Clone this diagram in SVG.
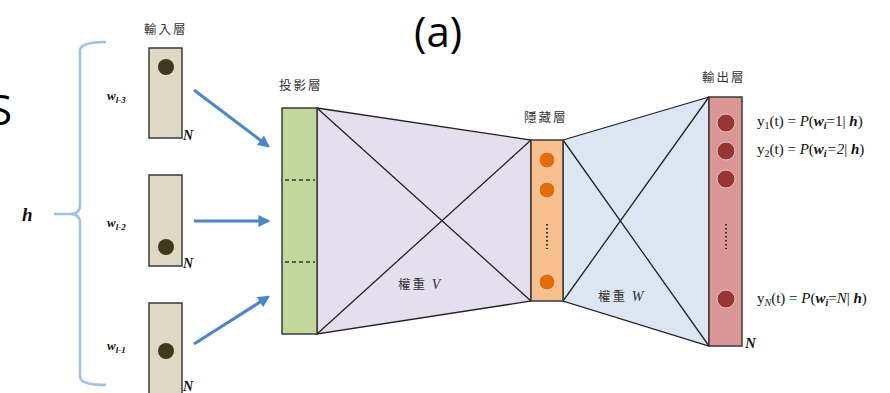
<svg xmlns="http://www.w3.org/2000/svg" width="890" height="393" viewBox="0 0 890 393">
<defs>
<style>
.box{stroke:#3a3a3a;stroke-width:1.5}
.cjk{font-family:"Noto Sans CJK TC","Noto Sans CJK SC",sans-serif;font-size:12.5px;fill:#333;letter-spacing:2px}
.ser{font-family:"Liberation Serif",serif;fill:#111}
.bi{font-family:"Liberation Serif",serif;font-weight:bold;font-style:italic;fill:#111}
.it{font-family:"Liberation Serif",serif;font-style:italic;fill:#333;letter-spacing:0}
.arr{stroke:#4A86D0;stroke-width:3;fill:none;marker-end:url(#ah)}
.ln{stroke:#222;stroke-width:1.3;fill:none}
.big{font-family:"Open Sans","Noto Sans",sans-serif;font-size:42px;fill:#000}
</style>
<marker id="ah" viewBox="0 0 10 10" refX="8" refY="5" markerWidth="4" markerHeight="4" orient="auto" markerUnits="strokeWidth">
<path d="M0,0 L10,5 L0,10 z" fill="#4A86D0"/>
</marker>
</defs>
<rect width="890" height="393" fill="#fff"/>
<text class="big" x="-11" y="125">S</text>
<text class="big" x="414" y="47">(a)</text>

<g id="brace">
<path d="M106,42 Q81,42 80,50 L80,205 Q80,214 70,214 L54,214 M70,214 Q80,214 80,223 L80,377 Q81,385 106,385" fill="none" stroke="#9DC3E6" stroke-width="2.5"/>
<text class="bi" x="22" y="221" font-size="19">h</text>
</g>

<g id="input-label"><text class="cjk" x="144" y="34">輸入層</text></g>

<g id="input1">
<rect class="box" x="149" y="48" width="33" height="90" fill="#DDD9C3"/>
<circle cx="166" cy="67" r="8" fill="#3F3A1E"/>
<text class="bi" x="183" y="140" font-size="14">N</text>
<text class="bi" x="107" y="100" font-size="13">w<tspan font-size="9" dy="3">l-3</tspan></text>
</g>
<g id="input2">
<rect class="box" x="149" y="175" width="33" height="91" fill="#DDD9C3"/>
<circle cx="166" cy="247" r="8" fill="#3F3A1E"/>
<text class="bi" x="183" y="268" font-size="14">N</text>
<text class="bi" x="107" y="227" font-size="13">w<tspan font-size="9" dy="3">l-2</tspan></text>
</g>
<g id="input3">
<rect class="box" x="149" y="303" width="33" height="95" fill="#DDD9C3"/>
<circle cx="166" cy="351" r="8" fill="#3F3A1E"/>
<text class="bi" x="183" y="391" font-size="14">N</text>
<text class="bi" x="107" y="350" font-size="13">w<tspan font-size="9" dy="3">l-1</tspan></text>
</g>

<g id="connectors">
<line class="arr" x1="194" y1="90" x2="268" y2="146"/>
<line class="arr" x1="194" y1="221" x2="268" y2="221"/>
<line class="arr" x1="194" y1="344" x2="268" y2="297"/>
</g>

<g id="weightV">
<polygon points="317,108 531,140 531,301 317,334" fill="#E4DFEC" stroke="#222" stroke-width="1.3"/>
<line class="ln" x1="317" y1="108" x2="531" y2="301"/>
<line class="ln" x1="317" y1="334" x2="531" y2="140"/>
<text class="cjk" x="398" y="289" font-size="12">權重 <tspan class="it" font-size="14">V</tspan></text>
</g>

<g id="projection">
<text class="cjk" x="279" y="90">投影層</text>
<rect class="box" x="282" y="108" width="35" height="226" fill="#C3D69B"/>
<line x1="285" y1="180" x2="315" y2="180" stroke="#333" stroke-width="1.3" stroke-dasharray="4,3"/>
<line x1="285" y1="262" x2="315" y2="262" stroke="#333" stroke-width="1.3" stroke-dasharray="4,3"/>
</g>

<g id="weightW">
<polygon points="563,140 709,97 709,346 563,301" fill="#DCE6F2" stroke="#222" stroke-width="1.3"/>
<line class="ln" x1="563" y1="140" x2="709" y2="346"/>
<line class="ln" x1="563" y1="301" x2="709" y2="97"/>
<text class="cjk" x="598" y="301" font-size="12">權重 <tspan class="it" font-size="14">W</tspan></text>
</g>

<g id="hidden">
<text class="cjk" x="524" y="122">隱藏層</text>
<rect class="box" x="531" y="140" width="32" height="161" fill="#F9C08F"/>
<circle cx="547" cy="160" r="8" fill="#E46C0A" stroke="#FAD3B0" stroke-width="1"/>
<circle cx="547" cy="190" r="8" fill="#E46C0A" stroke="#FAD3B0" stroke-width="1"/>
<circle cx="547" cy="282" r="8" fill="#E46C0A" stroke="#FAD3B0" stroke-width="1"/>
<line x1="547" y1="224" x2="547" y2="249" stroke="#333" stroke-width="2" stroke-dasharray="1.5,2.5"/>
</g>

<g id="output">
<text class="cjk" x="702" y="82">輸出層</text>
<rect class="box" x="709" y="97" width="33" height="249" fill="#DA9694"/>
<circle cx="726" cy="123" r="9" fill="#963634" stroke="#F0C0BE" stroke-width="1"/>
<circle cx="726" cy="151" r="9" fill="#963634" stroke="#F0C0BE" stroke-width="1"/>
<circle cx="726" cy="179" r="9" fill="#963634" stroke="#F0C0BE" stroke-width="1"/>
<circle cx="726" cy="299" r="9" fill="#963634" stroke="#F0C0BE" stroke-width="1"/>
<line x1="726" y1="224" x2="726" y2="249" stroke="#333" stroke-width="2" stroke-dasharray="1.5,2.5"/>
<text class="bi" x="745" y="348" font-size="15">N</text>
<text class="ser" x="757" y="126" font-size="15">y<tspan font-size="10" dy="3">1</tspan><tspan dy="-3">(t) = </tspan><tspan font-style="italic">P</tspan>(<tspan font-weight="bold" font-style="italic">w</tspan><tspan font-weight="bold" font-style="italic" font-size="10" dy="3">i</tspan><tspan dy="-3">=1| </tspan><tspan font-weight="bold" font-style="italic">h</tspan>)</text>
<text class="ser" x="757" y="154" font-size="15">y<tspan font-size="10" dy="3">2</tspan><tspan dy="-3">(t) = </tspan><tspan font-style="italic">P</tspan>(<tspan font-weight="bold" font-style="italic">w</tspan><tspan font-weight="bold" font-style="italic" font-size="10" dy="3">i</tspan><tspan dy="-3" font-style="italic">=2</tspan>| <tspan font-weight="bold" font-style="italic">h</tspan>)</text>
<text class="ser" x="757" y="303" font-size="15">y<tspan font-size="10" dy="3" font-style="italic">N</tspan><tspan dy="-3">(t) = </tspan><tspan font-style="italic">P</tspan>(<tspan font-weight="bold" font-style="italic">w</tspan><tspan font-weight="bold" font-style="italic" font-size="10" dy="3">i</tspan><tspan dy="-3">=</tspan><tspan font-style="italic">N</tspan>| <tspan font-weight="bold" font-style="italic">h</tspan>)</text>
</g>
</svg>
